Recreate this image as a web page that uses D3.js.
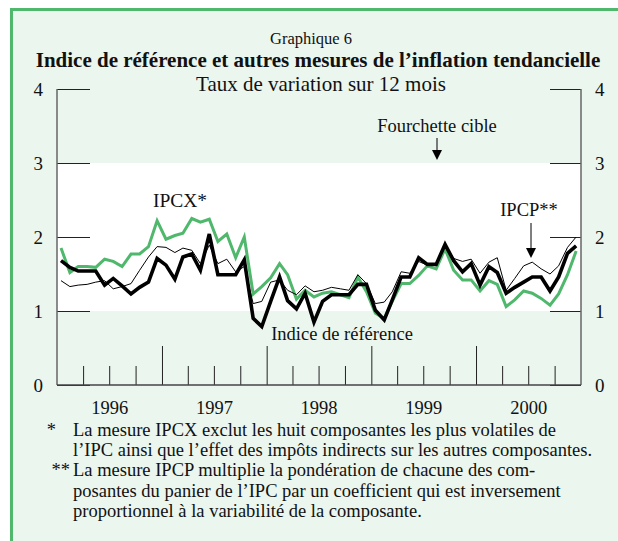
<!DOCTYPE html>
<html lang="fr">
<head>
<meta charset="utf-8">
<title>Graphique 6</title>
<script src="https://cdn.jsdelivr.net/npm/d3@7"></script>
<style>
  body { margin: 0; background: #fff; }
  svg text { font-family: "Liberation Serif", "Times New Roman", serif; fill: #111; }
  .axis path { display: none; }
  .axis line { stroke: #222; }
</style>
</head>
<body>
<svg id="chart"></svg>
<script>
// monthly values, Jan 1996 - Dec 2000 (12-month rate, %)
var startYear = 1996;
var indiceRef = [1.68, 1.59, 1.54, 1.54, 1.54, 1.35, 1.44, 1.34, 1.23, 1.32, 1.39, 1.71,
                 1.62, 1.43, 1.73, 1.77, 1.55, 2.04, 1.49, 1.49, 1.49, 1.69, 0.90, 0.79,
                 1.13, 1.46, 1.14, 1.03, 1.24, 0.85, 1.13, 1.22, 1.22, 1.22, 1.36, 1.36,
                 1.01, 0.88, 1.15, 1.46, 1.46, 1.72, 1.63, 1.63, 1.90, 1.68, 1.53, 1.64,
                 1.35, 1.60, 1.52, 1.24, 1.32, 1.39, 1.46, 1.46, 1.27, 1.46, 1.78, 1.88];
var ipcx = [1.85, 1.52, 1.60, 1.60, 1.59, 1.70, 1.67, 1.60, 1.77, 1.77, 1.87, 2.22,
            1.97, 2.02, 2.05, 2.25, 2.20, 2.24, 1.94, 2.04, 1.72, 2.00, 1.23, 1.33,
            1.45, 1.64, 1.49, 1.16, 1.28, 1.19, 1.24, 1.26, 1.22, 1.18, 1.46, 1.26,
            0.97, 0.90, 1.13, 1.37, 1.37, 1.48, 1.61, 1.57, 1.84, 1.55, 1.42, 1.42,
            1.27, 1.41, 1.36, 1.06, 1.15, 1.27, 1.24, 1.17, 1.08, 1.23, 1.49, 1.81];
var ipcp = [1.41, 1.33, 1.35, 1.36, 1.39, 1.41, 1.30, 1.33, 1.37, 1.55, 1.73, 1.87,
            1.86, 1.79, 1.85, 1.82, 1.64, 1.89, 1.64, 1.70, 1.53, 1.60, 1.10, 1.13,
            1.39, 1.42, 1.28, 1.22, 1.34, 1.26, 1.28, 1.32, 1.30, 1.28, 1.49, 1.37,
            1.10, 1.12, 1.26, 1.53, 1.51, 1.67, 1.62, 1.64, 1.89, 1.71, 1.67, 1.70,
            1.51, 1.66, 1.72, 1.28, 1.44, 1.61, 1.66, 1.57, 1.50, 1.61, 1.86, 2.00];
var years = [1996, 1997, 1998, 1999, 2000];
var yTicks = [0, 1, 2, 3, 4];
var targetBand = [1, 3];

var W = 618, H = 541;
var plotLeft = 57, plotRight = 581, plotTop = 89, plotBottom = 385;

var svg = d3.select("#chart").attr("width", W).attr("height", H);

// frame
svg.append("rect").attr("x", 11.5).attr("y", 9.5).attr("width", 700).attr("height", 700)
    .attr("fill", "#ebf6ee").attr("stroke", "#4fb86c").attr("stroke-width", 3);

var x = d3.scaleTime()
    .domain([new Date(startYear, 0, 1), new Date(startYear + years.length, 0, 1)])
    .range([plotLeft, plotRight]);
var y = d3.scaleLinear().domain([0, 4]).range([plotBottom, plotTop]);

function mid(i) { return new Date(startYear, i, 15); }

// target range (white band)
svg.append("rect")
    .attr("x", plotLeft).attr("width", plotRight - plotLeft)
    .attr("y", y(targetBand[1])).attr("height", y(targetBand[0]) - y(targetBand[1]))
    .attr("fill", "#fff");

// y axes
svg.append("g").attr("class", "axis").attr("transform", "translate(" + plotLeft + ",0)")
    .call(d3.axisLeft(y).tickValues(yTicks).tickSize(-33).tickPadding(14).tickFormat(d3.format("d")))
    .selectAll("text").attr("font-size", 19);
svg.append("g").attr("class", "axis").attr("transform", "translate(" + plotRight + ",0)")
    .call(d3.axisRight(y).tickValues(yTicks).tickSize(-31).tickPadding(14).tickFormat(d3.format("d")))
    .selectAll("text").attr("font-size", 19);

// x axis: quarter ticks, year ticks, year labels
var quarters = d3.timeMonth.every(3).range(x.domain()[0], x.domain()[1]).filter(function(d) { return d.getMonth() !== 0; });
var yearBounds = years.slice(1).map(function(yr) { return new Date(yr, 0, 1); });
var gx = svg.append("g").attr("class", "axis").attr("transform", "translate(0," + plotBottom + ")");
gx.append("g").call(d3.axisBottom(x).tickValues(quarters).tickSize(-19).tickFormat(""));
gx.append("g").call(d3.axisBottom(x).tickValues(yearBounds).tickSize(-39).tickFormat(""));
gx.append("g").call(d3.axisBottom(x).tickValues(years.map(function(yr) { return new Date(yr, 6, 1); }))
        .tickSize(0).tickPadding(16).tickFormat(d3.timeFormat("%Y")))
    .selectAll("text").attr("font-size", 18.5);

// axis frame lines
svg.append("line").attr("x1", plotLeft).attr("x2", plotLeft).attr("y1", plotTop).attr("y2", plotBottom).attr("stroke", "#666").attr("stroke-width", 1.5);
svg.append("line").attr("x1", plotRight).attr("x2", plotRight).attr("y1", plotTop).attr("y2", plotBottom).attr("stroke", "#666").attr("stroke-width", 1.5);
svg.append("line").attr("x1", plotLeft).attr("x2", plotRight).attr("y1", plotBottom).attr("y2", plotBottom).attr("stroke", "#444").attr("stroke-width", 1.5);

// series
var line = d3.line().x(function(d, i) { return x(mid(i)); }).y(function(d) { return y(d); });
svg.append("path").datum(ipcx).attr("d", line).attr("fill", "none").attr("stroke", "#4fb86c").attr("stroke-width", 3);
svg.append("path").datum(ipcp).attr("d", line).attr("fill", "none").attr("stroke", "#000").attr("stroke-width", 1);
svg.append("path").datum(indiceRef).attr("d", line).attr("fill", "none").attr("stroke", "#000").attr("stroke-width", 3.6);

// titles
svg.append("text").attr("x", 311).attr("y", 44).attr("text-anchor", "middle").attr("font-size", 16.5).text("Graphique 6");
svg.append("text").attr("x", 318).attr("y", 67).attr("text-anchor", "middle").attr("font-size", 21).attr("font-weight", "bold")
    .text("Indice de référence et autres mesures de l’inflation tendancielle");
svg.append("text").attr("x", 321).attr("y", 91).attr("text-anchor", "middle").attr("font-size", 21).text("Taux de variation sur 12 mois");

// annotations
svg.append("text").attr("x", 437).attr("y", 132).attr("text-anchor", "middle").attr("font-size", 18.5).text("Fourchette cible");
svg.append("text").attr("x", 180).attr("y", 207).attr("text-anchor", "middle").attr("font-size", 19.5).text("IPCX*");
svg.append("text").attr("x", 529).attr("y", 216).attr("text-anchor", "middle").attr("font-size", 18.5).text("IPCP**");
svg.append("text").attr("x", 342).attr("y", 340).attr("text-anchor", "middle").attr("font-size", 18.5).text("Indice de référence");

function arrow(ax, y1, y2) {
    svg.append("line").attr("x1", ax).attr("x2", ax).attr("y1", y1).attr("y2", y2 - 8).attr("stroke", "#000").attr("stroke-width", 1);
    svg.append("path").attr("d", "M" + (ax - 5) + "," + (y2 - 10) + "L" + (ax + 5) + "," + (y2 - 10) + "L" + ax + "," + y2 + "Z").attr("fill", "#000");
}
arrow(437, 138, 160);
arrow(531, 223, 258);

// footnotes
var notes = [
    ["*", "La mesure IPCX exclut les huit composantes les plus volatiles de"],
    ["", "l’IPC ainsi que l’effet des impôts indirects sur les autres composantes."],
    ["**", "La mesure IPCP multiplie la pondération de chacune des com-"],
    ["", "posantes du panier de l’IPC par un coefficient qui est inversement"],
    ["", "proportionnel à la variabilité de la composante."]
];
notes.forEach(function(n, i) {
    var yy = 436 + i * 20.2;
    if (n[0]) svg.append("text").attr("x", n[0] === "*" ? 56 : 70).attr("y", yy).attr("text-anchor", "end").attr("font-size", 18.5).text(n[0]);
    svg.append("text").attr("x", 73).attr("y", yy).attr("font-size", 18.5).text(n[1]);
});
</script>
</body>
</html>
